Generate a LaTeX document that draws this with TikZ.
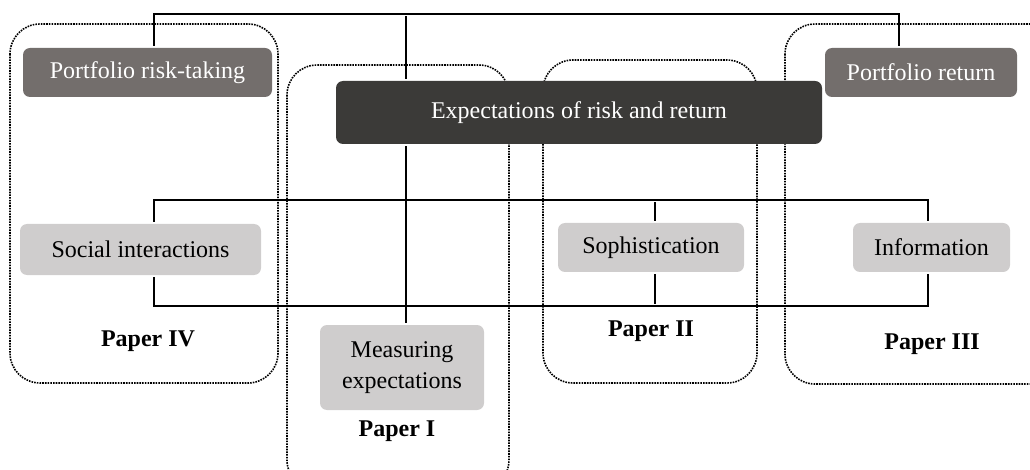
\documentclass[tikz,border=0pt]{standalone}
\usepackage{fontspec}
\setmainfont{Liberation Serif}
\definecolor{darkbox}{HTML}{3B3A38}
\definecolor{midbox}{HTML}{736E6C}
\definecolor{lightbox}{HTML}{CFCDCD}
\tikzset{
  frame/.style={line width=1.6pt, dash pattern=on 1.6pt off 1.1pt, rounded corners=30pt},
  boxbase/.style={rounded corners=7pt, inner sep=0pt, align=center, font=\fontsize{24}{31}\selectfont},
  darkfill/.style={boxbase, fill=darkbox, text=white},
  midfill/.style={boxbase, fill=midbox, text=white},
  lightfill/.style={boxbase, fill=lightbox, text=black},
  conn/.style={line width=1.6pt, shorten <=2pt, shorten >=2pt},
  paperlbl/.style={font=\fontsize{24}{28}\selectfont\bfseries, inner sep=0pt}
}
\begin{document}
\begin{tikzpicture}[x=1pt,y=-1pt]
\useasboundingbox (0,0) rectangle (1030,470);
\clip (0,0) rectangle (1030,470);
% group frames
\draw[frame] (10,24) rectangle (278,383);
\draw[frame] (287,65) rectangle (509,490);
\draw[frame] (543,60) rectangle (757,383);
\draw[frame] (785,24) rectangle (1060,384);
% boxes
\node[midfill, minimum width=249pt, minimum height=49pt] (prt) at (147.5,72.5) {Portfolio risk-taking};
\node[darkfill, minimum width=486pt, minimum height=63pt] (exp) at (579,112.5) {Expectations of risk and return};
\node[midfill, minimum width=192pt, minimum height=49pt] (pr) at (921,72.5) {Portfolio return};
\node[lightfill, minimum width=241pt, minimum height=51pt] (soc) at (140.5,249.5) {Social interactions};
\node[lightfill, minimum width=186pt, minimum height=49pt] (sop) at (651,247.5) {Sophistication};
\node[lightfill, minimum width=157pt, minimum height=49pt] (inf) at (931.5,247.5) {Information};
\node[lightfill, minimum width=164pt, minimum height=85pt] (mea) at (402,367.5) {Measuring\\expectations};
% labels
\node[paperlbl] (p4) at (148,341) {Paper IV};
\node[paperlbl] (p1) at (397,431) {Paper I};
\node[paperlbl] (p2) at (651,331) {Paper II};
\node[paperlbl] (p3) at (932,344) {Paper III};
% connector guide coordinates
\coordinate (xA) at (154,0);
\coordinate (xM) at (406,0);
\coordinate (xC) at (655,0);
\coordinate (xD) at (928,0);
\coordinate (xB) at (899,0);
\coordinate (top) at (0,14);
\coordinate (mid) at (0,200);
\coordinate (bot) at (0,306);
% connectors
\draw[conn] (prt.north -| xA) -- (xA |- top) -- (xB |- top) -- (pr.north -| xB);
\draw[conn] (exp.north -| xM) -- (xM |- top);
\draw[conn] (exp.south -| xM) -- (mea.north -| xM);
\draw[conn] (soc.north -| xA) -- (xA |- mid) -- (xD |- mid) -- (inf.north -| xD);
\draw[conn] (sop.north -| xC) -- (xC |- mid);
\draw[conn] (soc.south -| xA) -- (xA |- bot) -- (xD |- bot) -- (inf.south -| xD);
\draw[conn] (sop.south -| xC) -- (xC |- bot);
\end{tikzpicture}
\end{document}
